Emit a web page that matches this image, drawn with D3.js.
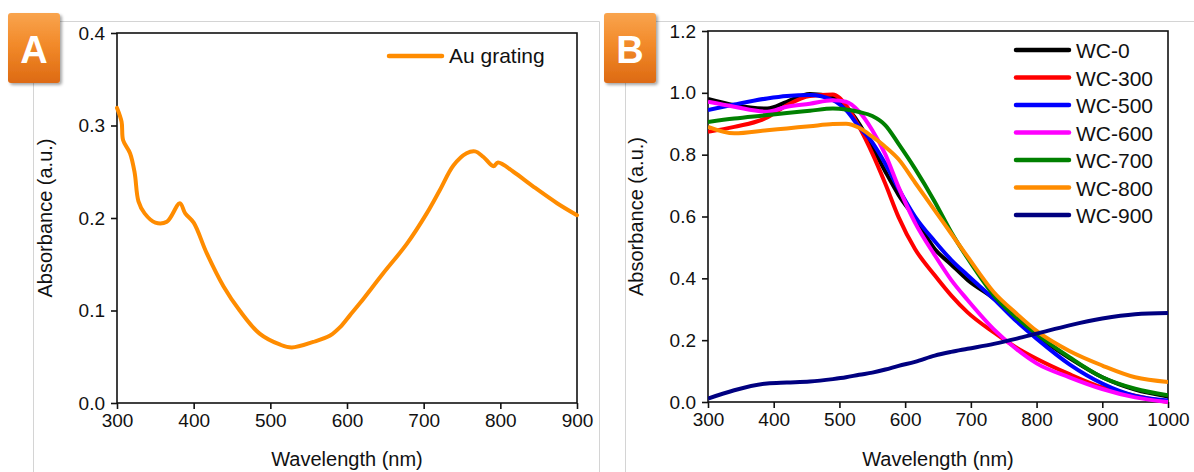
<!DOCTYPE html>
<html>
<head>
<meta charset="utf-8">
<script src="https://cdn.jsdelivr.net/npm/d3@7"></script>
<style>
  body { margin: 0; background: #fff; }
  svg text { font-family: "Liberation Sans", Arial, sans-serif; fill: #111; }
  .axis path, .axis line { stroke: #111; stroke-width: 1.6; }
  .axis text { font-size: 19px; }
</style>
</head>
<body>
<div id="chart"></div>
<script>
// ---- panel A: Au grating ----
const auWave = [300, 306, 308, 317, 323, 328, 336, 350, 365, 382, 389, 400, 417, 439, 460, 486, 513, 528, 556, 578, 591, 604, 617, 647, 678, 704, 721, 739, 756, 767, 778, 791, 797, 817, 843, 874, 900];
const auAbs  = [0.319, 0.304, 0.284, 0.270, 0.249, 0.218, 0.205, 0.195, 0.196, 0.216, 0.205, 0.195, 0.162, 0.126, 0.100, 0.075, 0.063, 0.060, 0.066, 0.073, 0.082, 0.095, 0.108, 0.140, 0.172, 0.205, 0.230, 0.257, 0.270, 0.272, 0.266, 0.256, 0.260, 0.250, 0.234, 0.216, 0.203];

// ---- panel B: WC samples ----
const wcNames  = ["WC-0", "WC-300", "WC-500", "WC-600", "WC-700", "WC-800", "WC-900"];
const wcColors = ["#000000", "#ff0000", "#0000ff", "#ff00ff", "#008000", "#ff8c00", "#000080"];
const wcWave = [300, 340, 390, 420, 455, 490, 510, 530, 550, 570, 590, 615, 645, 670, 695, 735, 770, 800, 850, 900, 950, 1000];
const wc0   = [0.980, 0.960, 0.949, 0.971, 0.996, 0.987, 0.955, 0.900, 0.825, 0.745, 0.670, 0.595, 0.495, 0.445, 0.395, 0.335, 0.268, 0.215, 0.142, 0.080, 0.040, 0.018];
const wc300 = [0.874, 0.890, 0.920, 0.960, 0.990, 0.995, 0.960, 0.890, 0.804, 0.705, 0.598, 0.495, 0.410, 0.345, 0.290, 0.225, 0.175, 0.140, 0.090, 0.047, 0.020, 0.000];
const wc500 = [0.944, 0.962, 0.982, 0.990, 0.993, 0.976, 0.944, 0.890, 0.840, 0.770, 0.690, 0.600, 0.520, 0.460, 0.410, 0.333, 0.260, 0.205, 0.122, 0.060, 0.020, 0.005];
const wc600 = [0.971, 0.955, 0.939, 0.955, 0.965, 0.976, 0.971, 0.939, 0.879, 0.800, 0.695, 0.580, 0.475, 0.395, 0.330, 0.235, 0.170, 0.125, 0.080, 0.042, 0.015, 0.000];
const wc700 = [0.906, 0.917, 0.928, 0.935, 0.942, 0.949, 0.946, 0.938, 0.925, 0.895, 0.835, 0.755, 0.648, 0.550, 0.465, 0.345, 0.272, 0.220, 0.145, 0.080, 0.043, 0.022];
const wc800 = [0.890, 0.869, 0.879, 0.885, 0.892, 0.899, 0.900, 0.887, 0.858, 0.825, 0.785, 0.710, 0.620, 0.545, 0.470, 0.355, 0.285, 0.230, 0.165, 0.118, 0.080, 0.065];
const wc900 = [0.011, 0.038, 0.060, 0.063, 0.066, 0.074, 0.080, 0.088, 0.095, 0.105, 0.117, 0.130, 0.150, 0.162, 0.172, 0.188, 0.205, 0.221, 0.248, 0.270, 0.284, 0.288];
const wcSeries = [wc0, wc300, wc500, wc600, wc700, wc800, wc900];

const W = 1194, H = 472;
const svg = d3.select("#chart").append("svg").attr("width", W).attr("height", H);

const defs = svg.append("defs");
const grad = defs.append("linearGradient").attr("id", "badgeGrad")
  .attr("x1", 0).attr("y1", 0).attr("x2", 0).attr("y2", 1);
grad.append("stop").attr("offset", "0%").attr("stop-color", "#f9a44e");
grad.append("stop").attr("offset", "45%").attr("stop-color", "#f28a2a");
grad.append("stop").attr("offset", "100%").attr("stop-color", "#dd6a12");
defs.append("filter").attr("id", "shadow")
  .append("feDropShadow").attr("dx", 2).attr("dy", 2).attr("stdDeviation", 1.5)
  .attr("flood-color", "#000").attr("flood-opacity", 0.35);

// light gray panel frames
svg.append("path").attr("d", "M33.5,480 V21.5 H599.5 V480")
  .attr("fill", "none").attr("stroke", "#d4d4d4").attr("stroke-width", 1);
svg.append("path").attr("d", "M625.5,480 V21.5 H1200")
  .attr("fill", "none").attr("stroke", "#d4d4d4").attr("stroke-width", 1);

function badge(x, y, letter) {
  const g = svg.append("g").attr("transform", `translate(${x},${y})`);
  g.append("rect").attr("width", 52).attr("height", 70).attr("rx", 3)
    .attr("fill", "url(#badgeGrad)").attr("filter", "url(#shadow)");
  g.append("text").attr("x", 26).attr("y", 50).attr("text-anchor", "middle")
    .style("font-size", "38px").style("font-weight", "bold").style("fill", "#fff")
    .text(letter);
}

function panel(box, xDom, yDom, xTicks, yTicks) {
  const x = d3.scaleLinear().domain(xDom).range([box.l, box.r]);
  const y = d3.scaleLinear().domain(yDom).range([box.b, box.t]);
  svg.append("rect").attr("x", box.l).attr("y", box.t)
    .attr("width", box.r - box.l).attr("height", box.b - box.t)
    .attr("fill", "none").attr("stroke", "#111").attr("stroke-width", 1.6);
  svg.append("g").attr("class", "axis").attr("transform", `translate(0,${box.b})`)
    .call(d3.axisBottom(x).tickValues(xTicks).tickSize(6).tickPadding(5).tickFormat(d3.format("d")))
    .call(g => g.select(".domain").remove());
  svg.append("g").attr("class", "axis").attr("transform", `translate(${box.l},0)`)
    .call(d3.axisLeft(y).tickValues(yTicks).tickSize(6).tickPadding(6).tickFormat(d3.format(".1f")))
    .call(g => g.select(".domain").remove());
  svg.append("text").attr("x", (box.l + box.r) / 2).attr("y", 466)
    .attr("text-anchor", "middle").style("font-size", "20px").text("Wavelength (nm)");
  svg.append("text").attr("transform", `translate(${box.l - 65},${(box.t + box.b) / 2}) rotate(-90)`)
    .attr("text-anchor", "middle").style("font-size", "20px").text("Absorbance (a.u.)");
  return { x, y };
}

// ---- panel A ----
const boxA = { l: 117, r: 577, t: 33, b: 403 };
const A = panel(boxA, [300, 900], [0, 0.4], d3.range(300, 901, 100), [0, 0.1, 0.2, 0.3, 0.4]);
const lineA = d3.line().x((d, i) => A.x(auWave[i])).y(d => A.y(d)).curve(d3.curveCatmullRom.alpha(0.5));
svg.append("path").datum(auAbs).attr("d", lineA)
  .attr("fill", "none").attr("stroke", "#ff8c00").attr("stroke-width", 4)
  .attr("stroke-linejoin", "round").attr("stroke-linecap", "round");
svg.append("line").attr("x1", 389).attr("x2", 442).attr("y1", 56).attr("y2", 56)
  .attr("stroke", "#ff8c00").attr("stroke-width", 4.5).attr("stroke-linecap", "round");
svg.append("text").attr("x", 449).attr("y", 63).style("font-size", "21px").text("Au grating");

// ---- panel B ----
const boxB = { l: 708, r: 1168, t: 31, b: 402 };
const B = panel(boxB, [300, 1000], [0, 1.2], d3.range(300, 1001, 100), [0, 0.2, 0.4, 0.6, 0.8, 1.0, 1.2]);
svg.append("clipPath").attr("id", "clipB").append("rect")
  .attr("x", boxB.l).attr("y", boxB.t).attr("width", boxB.r - boxB.l).attr("height", boxB.b - boxB.t + 2);
const lineB = d3.line().x((d, i) => B.x(wcWave[i])).y(d => B.y(d)).curve(d3.curveMonotoneX);
svg.append("g").attr("clip-path", "url(#clipB)")
  .selectAll("path").data(wcSeries).join("path")
  .attr("d", lineB).attr("fill", "none")
  .attr("stroke", (d, i) => wcColors[i]).attr("stroke-width", 4)
  .attr("stroke-linejoin", "round");

const leg = svg.append("g").selectAll("g").data(wcNames).join("g")
  .attr("transform", (d, i) => `translate(1016,${50 + i * 27.5})`);
leg.append("line").attr("x1", 0).attr("x2", 53)
  .attr("stroke", (d, i) => wcColors[i]).attr("stroke-width", 4.5).attr("stroke-linecap", "round");
leg.append("text").attr("x", 60).attr("y", 8).style("font-size", "21px").text(d => d);

badge(8, 13, "A");
badge(604, 13, "B");
</script>
</body>
</html>
